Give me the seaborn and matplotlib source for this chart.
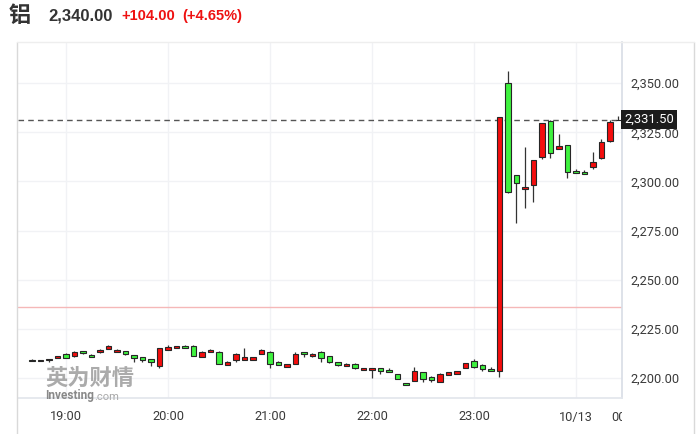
import numpy as np
import pandas as pd
import seaborn as sns
import matplotlib
matplotlib.use("Agg")
import matplotlib.pyplot as plt
import matplotlib.dates as mdates
from matplotlib.lines import Line2D
from matplotlib.transforms import Bbox, TransformedBbox, blended_transform_factory

# 5-minute candles, 10/12 18:40 -> 10/13 00:25
times = pd.date_range("2023-10-12 18:40", periods=70, freq="5min")
opens = [2209.2, 2208.7, 2209.0, 2210.2, 2212.0, 2211.0, 2213.5, 2211.8, 2213.1, 2214.8,
         2213.1, 2213.7, 2211.7, 2210.7, 2209.7, 2206.0, 2214.1, 2215.1, 2216.4, 2216.4,
         2210.7, 2213.1, 2213.4, 2206.6, 2209.3, 2209.3, 2209.3, 2212.1, 2213.4, 2208.3,
         2205.6, 2207.0, 2213.1, 2211.0, 2213.4, 2211.0, 2208.0, 2206.0, 2207.3, 2203.9,
         2203.9, 2204.9, 2204.2, 2201.9, 2197.5, 2198.5, 2202.9, 2200.7, 2198.1, 2201.5,
         2202.2, 2205.2, 2208.8, 2206.8, 2204.4, 2203.4, 2350.0, 2303.3, 2296.0, 2298.2,
         2312.3, 2330.8, 2316.7, 2318.6, 2305.5, 2305.0, 2307.2, 2311.8, 2320.4, 2331.5]
highs = [2209.4, 2209.3, 2209.7, 2211.3, 2212.5, 2213.5, 2213.7, 2212.0, 2214.5, 2216.6,
         2214.5, 2213.9, 2211.9, 2210.9, 2209.9, 2215.5, 2216.8, 2216.5, 2216.6, 2216.6,
         2213.5, 2214.5, 2213.5, 2208.4, 2212.5, 2215.1, 2210.8, 2214.5, 2213.5, 2208.4,
         2207.1, 2213.1, 2213.2, 2212.5, 2213.5, 2211.1, 2208.1, 2207.4, 2207.4, 2205.3,
         2205.3, 2205.0, 2205.3, 2202.0, 2197.6, 2205.6, 2203.0, 2200.8, 2202.3, 2203.0,
         2203.7, 2207.7, 2209.9, 2206.9, 2205.5, 2332.7, 2356.2, 2303.4, 2317.7, 2311.1,
         2329.7, 2331.5, 2324.2, 2318.7, 2306.5, 2306.0, 2315.2, 2321.5, 2331.5, 2333.5]
lows = [2208.4, 2208.5, 2208.2, 2210.0, 2210.3, 2210.9, 2212.2, 2210.5, 2212.5, 2214.6,
        2213.0, 2211.8, 2208.3, 2208.3, 2206.3, 2205.2, 2214.0, 2215.0, 2215.0, 2211.2,
        2210.6, 2213.0, 2206.9, 2206.5, 2207.9, 2209.2, 2209.2, 2212.0, 2205.2, 2206.5,
        2205.5, 2206.9, 2210.7, 2210.9, 2208.3, 2207.4, 2205.9, 2205.9, 2204.8, 2203.8,
        2200.2, 2201.9, 2202.8, 2199.4, 2196.3, 2198.4, 2197.9, 2198.0, 2198.0, 2201.4,
        2202.1, 2205.1, 2205.3, 2203.5, 2203.3, 2200.3, 2294.0, 2279.0, 2286.7, 2289.7,
        2311.6, 2311.8, 2316.6, 2301.6, 2304.1, 2303.7, 2306.5, 2311.7, 2320.3, 2331.5]
closes = [2208.6, 2209.2, 2209.6, 2211.2, 2210.4, 2213.4, 2212.5, 2210.7, 2214.4, 2216.4,
          2214.4, 2212.0, 2210.3, 2209.3, 2208.0, 2215.4, 2215.8, 2216.4, 2215.1, 2211.3,
          2213.4, 2214.4, 2207.0, 2208.3, 2212.4, 2210.7, 2210.7, 2214.4, 2207.0, 2206.6,
          2207.0, 2212.1, 2212.1, 2212.4, 2210.3, 2208.3, 2206.6, 2207.3, 2204.9, 2205.2,
          2205.2, 2203.6, 2202.9, 2199.5, 2196.4, 2203.6, 2199.5, 2199.0, 2202.2, 2202.9,
          2203.6, 2207.6, 2205.4, 2204.4, 2203.4, 2332.7, 2294.5, 2299.4, 2297.4, 2311.0,
          2329.6, 2314.7, 2318.0, 2305.0, 2304.2, 2303.8, 2309.8, 2320.3, 2330.4, 2331.5]

prev_close = 2236.0
last_price = 2331.5
y_ticks = [2200, 2225, 2250, 2275, 2300, 2325, 2350]
hour_ticks = pd.to_datetime(["2023-10-12 19:00", "2023-10-12 20:00", "2023-10-12 21:00",
                             "2023-10-12 22:00", "2023-10-12 23:00", "2023-10-13 00:00"])
hour_labels = ["19:00", "20:00", "21:00", "22:00", "23:00", "10/13"]

df = pd.DataFrame({"time": times, "open": opens, "high": highs, "low": lows, "close": closes})
df["x"] = mdates.date2num(df["time"])
df["up"] = df["close"] >= df["open"]

sns.set_theme(style="white")
plt.rcParams["font.family"] = ["Roboto", "Noto Sans CJK SC", "DejaVu Sans"]

W, H = 700, 434
fig = plt.figure(figsize=(7, 4.34), dpi=100)
ax = fig.add_axes([18 / W, (H - 398) / H, (622 - 18) / W, (398 - 42) / H])

# grid
for yv in y_ticks:
    ax.axhline(yv, color="#f1f2f5", lw=1, zorder=0)
for t in hour_ticks:
    ax.axvline(mdates.date2num(t), color="#f1f2f5", lw=1, zorder=0)

# candles (red = up, green = down)
width = 3.3 / 1440
ax.vlines(df["x"], df["low"], df["high"], color="#333333", lw=0.9, zorder=2)
colors = np.where(df["up"], "#f40d0d", "#3ef23e")
ax.bar(df["x"], df["close"] - df["open"], bottom=df["open"], width=width,
       color=colors, edgecolor="#262626", linewidth=0.8, zorder=3)

ax.axhline(prev_close, color="#f5b8b8", lw=1, zorder=1)
ax.axhline(last_price, color="#555555", lw=1, ls=(0, (4, 3)), zorder=1)

ax.set_xlim(mdates.date2num(pd.Timestamp("2023-10-12 18:31:48")),
            mdates.date2num(pd.Timestamp("2023-10-13 00:27:06")))
ax.set_ylim(2189.8, 2371)

ax.set_xticks(mdates.date2num(hour_ticks))
ax.set_xticklabels(hour_labels)
ax.yaxis.tick_right()
ax.set_yticks(y_ticks)
ax.set_yticklabels([f"{v:,.2f}" for v in y_ticks])
ax.tick_params(axis="both", labelsize=9.2, colors="#3a3a3a", length=3, width=0.8,
               color="#d5d9e0")
ax.tick_params(axis="x", pad=6)
ax.tick_params(axis="y", pad=3)

sns.despine(ax=ax, left=True, top=True, right=False, bottom=False)
ax.spines["right"].set_color("#d9dee6")
ax.spines["bottom"].set_color("#e3e6ec")

# label cut off at the right edge
clip_tr = blended_transform_factory(ax.transAxes, fig.transFigure)
t = ax.text(mdates.date2num(pd.Timestamp("2023-10-13 00:30")), -0.037, "00:30",
            transform=blended_transform_factory(ax.transData, ax.transAxes),
            ha="center", va="top", fontsize=9.2, color="#3a3a3a")
t.set_clip_box(TransformedBbox(Bbox.from_extents(0, 0, 1, 1), clip_tr))
t.set_clip_on(True)

# last price tag
ax.text(1.004, last_price, f"{last_price:,.2f}",
        transform=blended_transform_factory(ax.transAxes, ax.transData),
        ha="left", va="center", fontsize=9.4, color="white", zorder=6, clip_on=False,
        bbox=dict(boxstyle="square,pad=0.25", fc="#1c1c1c", ec="none"))

# watermark
fig.text(45 / W, 1 - 378 / H, "英为财情", fontsize=16, fontweight="bold",
         color="#8f8f8f", alpha=0.75, family=["Noto Sans CJK SC"], va="center", ha="left")
fig.text(45 / W, 1 - 396 / H, "Investing", fontsize=8.5, fontweight="bold",
         color="#7c7c7c", alpha=0.9, va="center", ha="left")
fig.text(94 / W, 1 - 396.5 / H, ".com", fontsize=8, color="#aaaaaa",
         va="center", ha="left")

# header
fig.text(9 / W, 1 - 16 / H, "铝", fontsize=16, fontweight="bold", color="#333333",
         family=["Noto Sans CJK SC"], va="center", ha="left")
fig.text(48 / W, 1 - 16 / H, "2,340.00", fontsize=12, fontweight="bold", color="#333333",
         family=["Liberation Sans"], va="center", ha="left")
fig.text(121 / W, 1 - 16 / H, "+104.00", fontsize=10.5, fontweight="bold", color="#ee1111",
         family=["Liberation Sans"], va="center", ha="left")
fig.text(182 / W, 1 - 16 / H, "(+4.65%)", fontsize=10.5, fontweight="bold", color="#ee1111",
         family=["Liberation Sans"], va="center", ha="left")

# panel frame
fig.add_artist(Line2D([17 / W, 17 / W], [0, 1 - 42 / H], color="#d9d9d9", lw=1,
                      transform=fig.transFigure))
fig.add_artist(Line2D([694 / W, 694 / W], [0, 1 - 42 / H], color="#d9d9d9", lw=1,
                      transform=fig.transFigure))
fig.add_artist(Line2D([17 / W, 694 / W], [1 - 42 / H, 1 - 42 / H], color="#eeeeee", lw=1,
                      transform=fig.transFigure))

fig.savefig("out.png", dpi=100)
